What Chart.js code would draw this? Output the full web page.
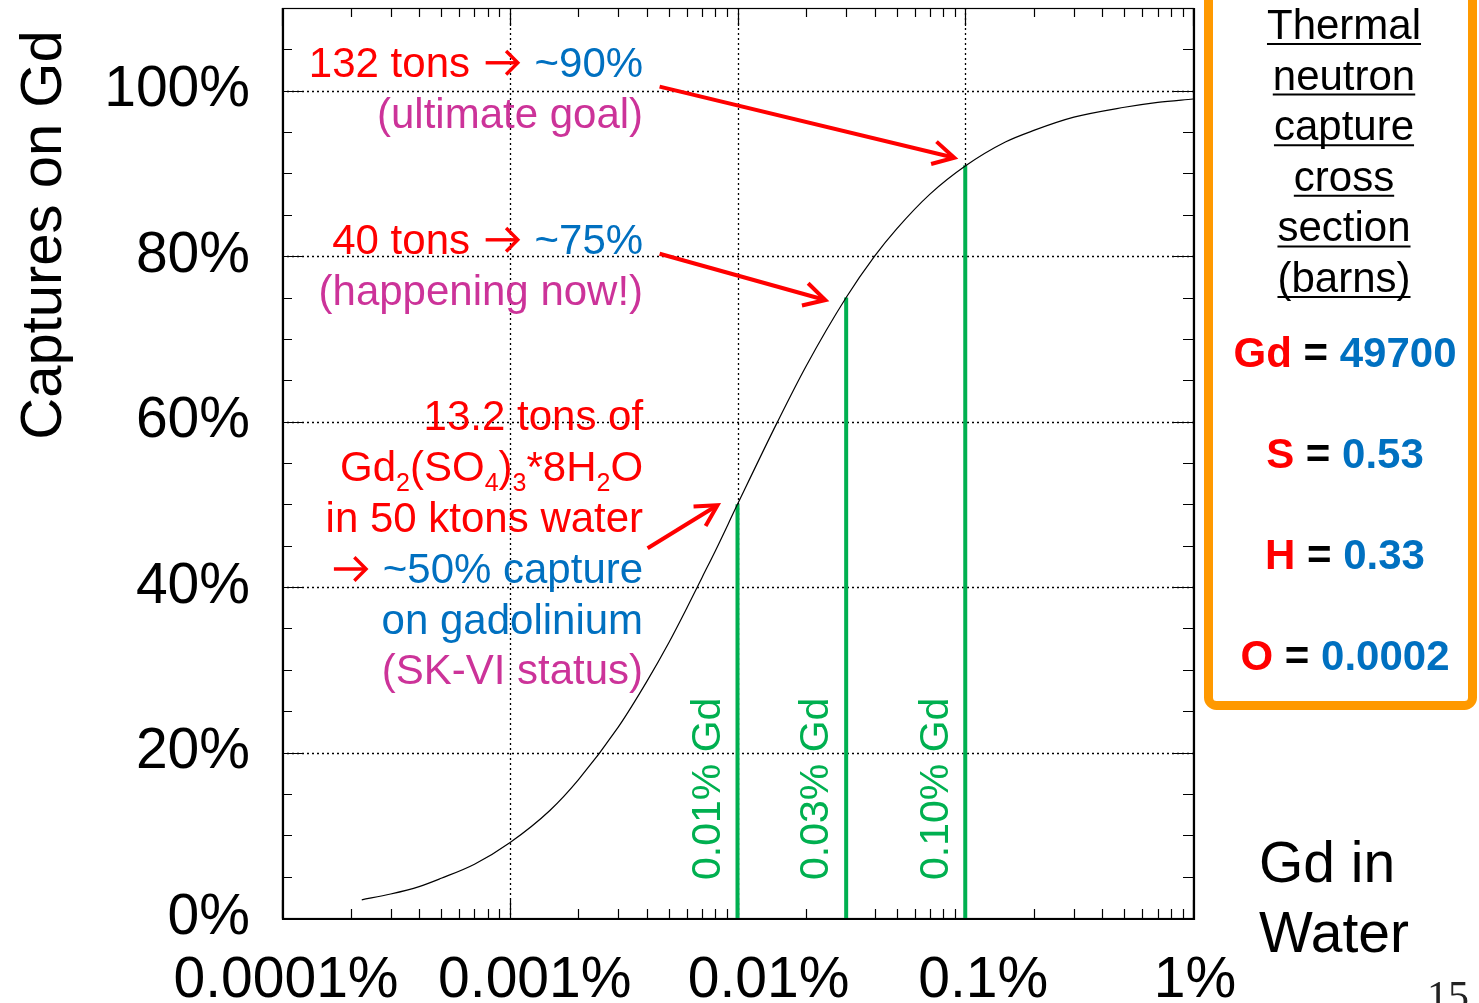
<!DOCTYPE html>
<html>
<head>
<meta charset="utf-8">
<title>Captures on Gd vs Gd concentration</title>
<script src="https://cdn.jsdelivr.net/npm/chart.js@4.4.1/dist/chart.umd.min.js"></script>
<style>
  html, body { margin: 0; padding: 0; background: #ffffff; }
  #wrap { width: 1479px; height: 1003px; position: relative; overflow: hidden; }
  canvas { display: block; }
</style>
</head>
<body>
<div id="wrap"><canvas id="chart" width="1479" height="1003"></canvas></div>
<script>
// Gd concentration in water (% by mass) and the fraction of thermal-neutron captures on Gd (%)
const gdConcentration = [0.000224, 0.0003, 0.0004, 0.0005, 0.0007, 0.001, 0.0015, 0.002, 0.003, 0.004, 0.005,
                         0.006, 0.007, 0.008, 0.01, 0.015, 0.02, 0.03, 0.04, 0.05, 0.07, 0.1, 0.15, 0.2, 0.3,
                         0.5, 0.7, 1.0];
const capturesOnGd   = [2.2, 2.9, 3.8, 4.8, 6.5, 9.1, 13.0, 16.7, 23.1, 28.6, 33.3,
                        37.5, 41.2, 44.4, 50.0, 60.0, 66.7, 75.0, 80.0, 83.3, 87.5, 90.9, 93.8, 95.2, 96.8,
                        98.0, 98.6, 99.0];

// loading stages marked with vertical bars
const stageConcentration = [0.01, 0.03, 0.1];
const stageCapture = [50, 75, 91];
const stageLabels = ['0.01% Gd', '0.03% Gd', '0.10% Gd'];

// axis ticks
const xTickValues = [0.0001, 0.001, 0.01, 0.1, 1];
const xTickLabels = ['0.0001%', '0.001%', '0.01%', '0.1%', '1%'];
const yTickValues = [0, 20, 40, 60, 80, 100];

// thermal neutron capture cross sections (barns)
const crossSectionElements = ['Gd', 'S', 'H', 'O'];
const crossSectionBarns = ['49700', '0.53', '0.33', '0.0002'];

const FONT = '"Liberation Sans", Arial, Helvetica, sans-serif';
const RED = '#FF0000', BLUE = '#0070C0', MAGENTA = '#CC3399', GREEN = '#00B050', ORANGE = '#FF9900';

// text notes on the plot, anchored in data units (right edge x, line centre y);
// a segment with arrow:true is drawn as a right-pointing arrow glyph
const noteRightX = 0.00385;
const notes = [
  { y: 103.5, segs: [{ t: '132 tons ', c: RED }, { arrow: true, c: RED }, { t: ' ~90%', c: BLUE }] },
  { y: 97.3,  segs: [{ t: '(ultimate goal)', c: MAGENTA }] },
  { y: 82.1,  segs: [{ t: '40 tons ', c: RED }, { arrow: true, c: RED }, { t: ' ~75%', c: BLUE }] },
  { y: 75.9,  segs: [{ t: '(happening now!)', c: MAGENTA }] },
  { y: 60.8,  segs: [{ t: '13.2 tons of', c: RED }] },
  { y: 54.65, segs: [{ t: 'Gd', c: RED }, { t: '2', c: RED, sub: true }, { t: '(SO', c: RED }, { t: '4', c: RED, sub: true },
                     { t: ')', c: RED }, { t: '3', c: RED, sub: true }, { t: '*8H', c: RED }, { t: '2', c: RED, sub: true }, { t: 'O', c: RED }] },
  { y: 48.5,  segs: [{ t: 'in 50 ktons water', c: RED }] },
  { y: 42.3,  segs: [{ arrow: true, c: RED }, { t: ' ~50% capture', c: BLUE }] },
  { y: 36.15, segs: [{ t: 'on gadolinium', c: BLUE }] },
  { y: 30.1,  segs: [{ t: '(SK-VI status)', c: MAGENTA }] }
];

// pointer arrows from the notes to the curve, in data units
const pointers = [
  { from: [0.00455, 100.5], to: [0.0895, 91.9] },
  { from: [0.00455, 80.3],  to: [0.0243, 74.7] },
  { from: [0.00403, 44.7],  to: [0.00817, 49.9] }
];

function segWidth(ctx, s, size) {
  if (s.arrow) return size * 0.98;
  ctx.font = (s.sub ? Math.round(size * 0.6) : size) + 'px ' + FONT;
  return ctx.measureText(s.t).width;
}

function drawRichRight(ctx, segs, xRight, yMid, size) {
  let w = 0;
  segs.forEach(s => { w += segWidth(ctx, s, size); });
  let x = xRight - w;
  const base = yMid + size * 0.358;
  ctx.textAlign = 'left';
  ctx.textBaseline = 'alphabetic';
  segs.forEach(s => {
    const sw = segWidth(ctx, s, size);
    if (s.arrow) {
      // inline arrow: shaft plus open chevron head
      ctx.save();
      ctx.strokeStyle = s.c;
      ctx.lineWidth = 3.4;
      ctx.lineJoin = 'miter';
      const y0 = yMid + 1;
      const x0 = x + 4, x1 = x + sw - 5;
      const h = size * 0.28;
      ctx.beginPath();
      ctx.moveTo(x0, y0); ctx.lineTo(x1 - 1, y0);
      ctx.stroke();
      ctx.beginPath();
      ctx.moveTo(x1 - h, y0 - h); ctx.lineTo(x1, y0); ctx.lineTo(x1 - h, y0 + h);
      ctx.stroke();
      ctx.restore();
    } else {
      ctx.font = (s.sub ? Math.round(size * 0.6) : size) + 'px ' + FONT;
      ctx.fillStyle = s.c;
      ctx.fillText(s.t, x, base + (s.sub ? size * 0.24 : 0));
    }
    x += sw;
  });
}

function drawArrow(ctx, x1, y1, x2, y2) {
  ctx.save();
  ctx.strokeStyle = RED;
  ctx.lineWidth = 4;
  ctx.lineCap = 'butt';
  ctx.lineJoin = 'miter';
  const a = Math.atan2(y2 - y1, x2 - x1);
  ctx.beginPath();
  ctx.moveTo(x1, y1);
  ctx.lineTo(x2 - 2 * Math.cos(a), y2 - 2 * Math.sin(a));
  ctx.stroke();
  const L = 24, spread = 0.5;
  ctx.beginPath();
  ctx.moveTo(x2 - L * Math.cos(a - spread), y2 - L * Math.sin(a - spread));
  ctx.lineTo(x2, y2);
  ctx.lineTo(x2 - L * Math.cos(a + spread), y2 - L * Math.sin(a + spread));
  ctx.stroke();
  ctx.restore();
}

// frame, dotted grid and inward tick marks
const framePlugin = {
  id: 'frame',
  beforeDatasetsDraw(chart) {
    const { ctx, chartArea: ca, scales: { x, y } } = chart;
    ctx.save();
    // dotted grid at decades and every 20 %
    ctx.strokeStyle = '#000';
    ctx.lineWidth = 1.3;
    ctx.setLineDash([2, 3]);
    xTickValues.forEach(v => {
      const px = Math.round(x.getPixelForValue(v)) + 0.5;
      if (px <= ca.left + 2 || px >= ca.right - 2) return;
      ctx.beginPath(); ctx.moveTo(px, ca.top); ctx.lineTo(px, ca.bottom); ctx.stroke();
    });
    yTickValues.forEach(v => {
      const py = Math.round(y.getPixelForValue(v)) + 0.5;
      if (py >= ca.bottom - 2) return;
      ctx.beginPath(); ctx.moveTo(ca.left, py); ctx.lineTo(ca.right, py); ctx.stroke();
    });
    ctx.setLineDash([]);

    // x ticks, bottom and top
    ctx.lineWidth = 1.2;
    for (let d = 0.0001; d < 1.5; d *= 10) {
      for (let m = 1; m <= 9; m++) {
        const v = d * m;
        if (v > 1.0001) break;
        const px = Math.round(x.getPixelForValue(v)) + 0.5;
        const len = m === 1 ? 18 : 9;
        ctx.beginPath();
        ctx.moveTo(px, ca.bottom); ctx.lineTo(px, ca.bottom - len);
        ctx.moveTo(px, ca.top); ctx.lineTo(px, ca.top + len);
        ctx.stroke();
      }
    }
    // y ticks, left and right, every 5 %
    for (let v = 5; v < 110; v += 5) {
      const py = Math.round(y.getPixelForValue(v)) + 0.5;
      const len = v % 20 === 0 ? 20 : 10;
      ctx.beginPath();
      ctx.moveTo(ca.left, py); ctx.lineTo(ca.left + len, py);
      ctx.moveTo(ca.right, py); ctx.lineTo(ca.right - len, py);
      ctx.stroke();
    }
    // plot frame
    ctx.lineWidth = 1.2;
    ctx.strokeRect(ca.left + 0.5, ca.top + 0.5, ca.right - ca.left, ca.bottom - ca.top);
    ctx.lineWidth = 2.2;
    ctx.beginPath();
    ctx.moveTo(ca.left + 1, ca.top); ctx.lineTo(ca.left + 1, ca.bottom + 1);
    ctx.lineTo(ca.right + 1, ca.bottom + 1); ctx.lineTo(ca.right + 1, ca.top);
    ctx.stroke();
    ctx.restore();
  },
  afterDraw(chart) {
    const { ctx, chartArea: ca, scales: { x, y } } = chart;
    ctx.save();

    // y axis title
    ctx.save();
    ctx.translate(45, 235);
    ctx.rotate(-Math.PI / 2);
    ctx.font = '58px ' + FONT;
    ctx.fillStyle = '#000';
    ctx.textAlign = 'center';
    ctx.textBaseline = 'middle';
    ctx.fillText('Captures on Gd', 0, 0);
    ctx.restore();

    // x tick labels
    const xLabelNudge = [4, 25, 31, 18, 2];
    ctx.font = '57px ' + FONT;
    ctx.fillStyle = '#000';
    ctx.textAlign = 'center';
    ctx.textBaseline = 'alphabetic';
    xTickValues.forEach((v, i) => {
      ctx.fillText(xTickLabels[i], x.getPixelForValue(v) + xLabelNudge[i], 997);
    });

    // x axis title
    ctx.textAlign = 'left';
    ctx.font = '57px ' + FONT;
    ctx.fillText('Gd in', 1259, 882);
    ctx.fillText('Water', 1259, 952);

    // stage labels beside each bar
    ctx.fillStyle = GREEN;
    ctx.font = '41px ' + FONT;
    stageConcentration.forEach((v, i) => {
      ctx.save();
      ctx.translate(x.getPixelForValue(v) - 31, ca.bottom - 38);
      ctx.rotate(-Math.PI / 2);
      ctx.textAlign = 'left';
      ctx.textBaseline = 'middle';
      ctx.fillText(stageLabels[i], 0, 2);
      ctx.restore();
    });

    // notes and arrows
    const xr = x.getPixelForValue(noteRightX);
    notes.forEach(n => drawRichRight(ctx, n.segs, xr, y.getPixelForValue(n.y), 42));
    pointers.forEach(p => drawArrow(ctx,
      x.getPixelForValue(p.from[0]), y.getPixelForValue(p.from[1]),
      x.getPixelForValue(p.to[0]), y.getPixelForValue(p.to[1])));

    // cross-section box
    ctx.strokeStyle = ORANGE;
    ctx.lineWidth = 9;
    ctx.beginPath();
    if (ctx.roundRect) ctx.roundRect(1208.5, -30, 264, 735.5, 8);
    else ctx.rect(1208.5, -30, 264, 735.5);
    ctx.stroke();

    const cx = 1344;
    const heading = ['Thermal', 'neutron', 'capture', 'cross', 'section', '(barns)'];
    ctx.fillStyle = '#000';
    ctx.strokeStyle = '#000';
    ctx.font = '42px ' + FONT;
    ctx.textAlign = 'center';
    ctx.textBaseline = 'alphabetic';
    heading.forEach((t, i) => {
      const yc = 24 + i * 50.6;
      const base = yc + 15;
      ctx.fillText(t, cx, base);
      const w = ctx.measureText(t).width;
      ctx.lineWidth = 2;
      ctx.beginPath();
      ctx.moveTo(cx - w / 2, base + 5);
      ctx.lineTo(cx + w / 2, base + 5);
      ctx.stroke();
    });

    ctx.font = 'bold 42px ' + FONT;
    crossSectionElements.forEach((el, i) => {
      const parts = [{ t: el, c: RED }, { t: ' = ', c: '#000' }, { t: crossSectionBarns[i], c: BLUE }];
      let w = 0;
      parts.forEach(p => { w += ctx.measureText(p.t).width; });
      let px = 1345 - w / 2;
      const base = 352 + i * 101 + 15;
      ctx.textAlign = 'left';
      parts.forEach(p => {
        ctx.fillStyle = p.c;
        ctx.fillText(p.t, px, base);
        px += ctx.measureText(p.t).width;
      });
    });

    // page number
    ctx.fillStyle = '#222';
    ctx.font = '42px "Liberation Serif", "Times New Roman", serif';
    ctx.textAlign = 'left';
    ctx.fillText('15', 1427, 1010);

    ctx.restore();
  }
};

const datasets = [{
  label: 'Captures on Gd',
  data: gdConcentration.map((c, i) => ({ x: c, y: capturesOnGd[i] })),
  borderColor: '#000',
  borderWidth: 1.2,
  pointRadius: 0,
  cubicInterpolationMode: 'monotone',
  fill: false
}];
stageConcentration.forEach((c, i) => {
  datasets.push({
    label: stageLabels[i],
    data: [{ x: c, y: 0 }, { x: c, y: stageCapture[i] }],
    borderColor: GREEN,
    borderWidth: 4,
    borderCapStyle: 'butt',
    pointRadius: 0,
    fill: false
  });
});

new Chart(document.getElementById('chart'), {
  type: 'line',
  data: { datasets },
  options: {
    responsive: false,
    animation: false,
    devicePixelRatio: 1,
    layout: { padding: { top: 8, right: 286, left: 0, bottom: 0 } },
    plugins: { legend: { display: false }, tooltip: { enabled: false } },
    elements: { line: { tension: 0 } },
    scales: {
      x: {
        type: 'logarithmic',
        min: 0.0001,
        max: 1,
        grid: { display: false, drawTicks: false },
        border: { display: false },
        ticks: { display: false },
        afterFit(scale) {
          scale.height = 85;
          scale.paddingLeft = 0; scale.paddingRight = 0;
        }
      },
      y: {
        type: 'linear',
        min: 0,
        max: 110,
        grid: { display: false, drawTicks: false },
        border: { display: false },
        afterBuildTicks(scale) { scale.ticks = yTickValues.map(v => ({ value: v })); },
        afterFit(scale) {
          scale.width = 282;
          scale.paddingTop = 0; scale.paddingBottom = 0;
        },
        ticks: {
          color: '#000',
          padding: 32,
          font: { family: FONT, size: 57 },
          callback: v => v + '%'
        }
      }
    }
  },
  plugins: [framePlugin]
});
</script>
